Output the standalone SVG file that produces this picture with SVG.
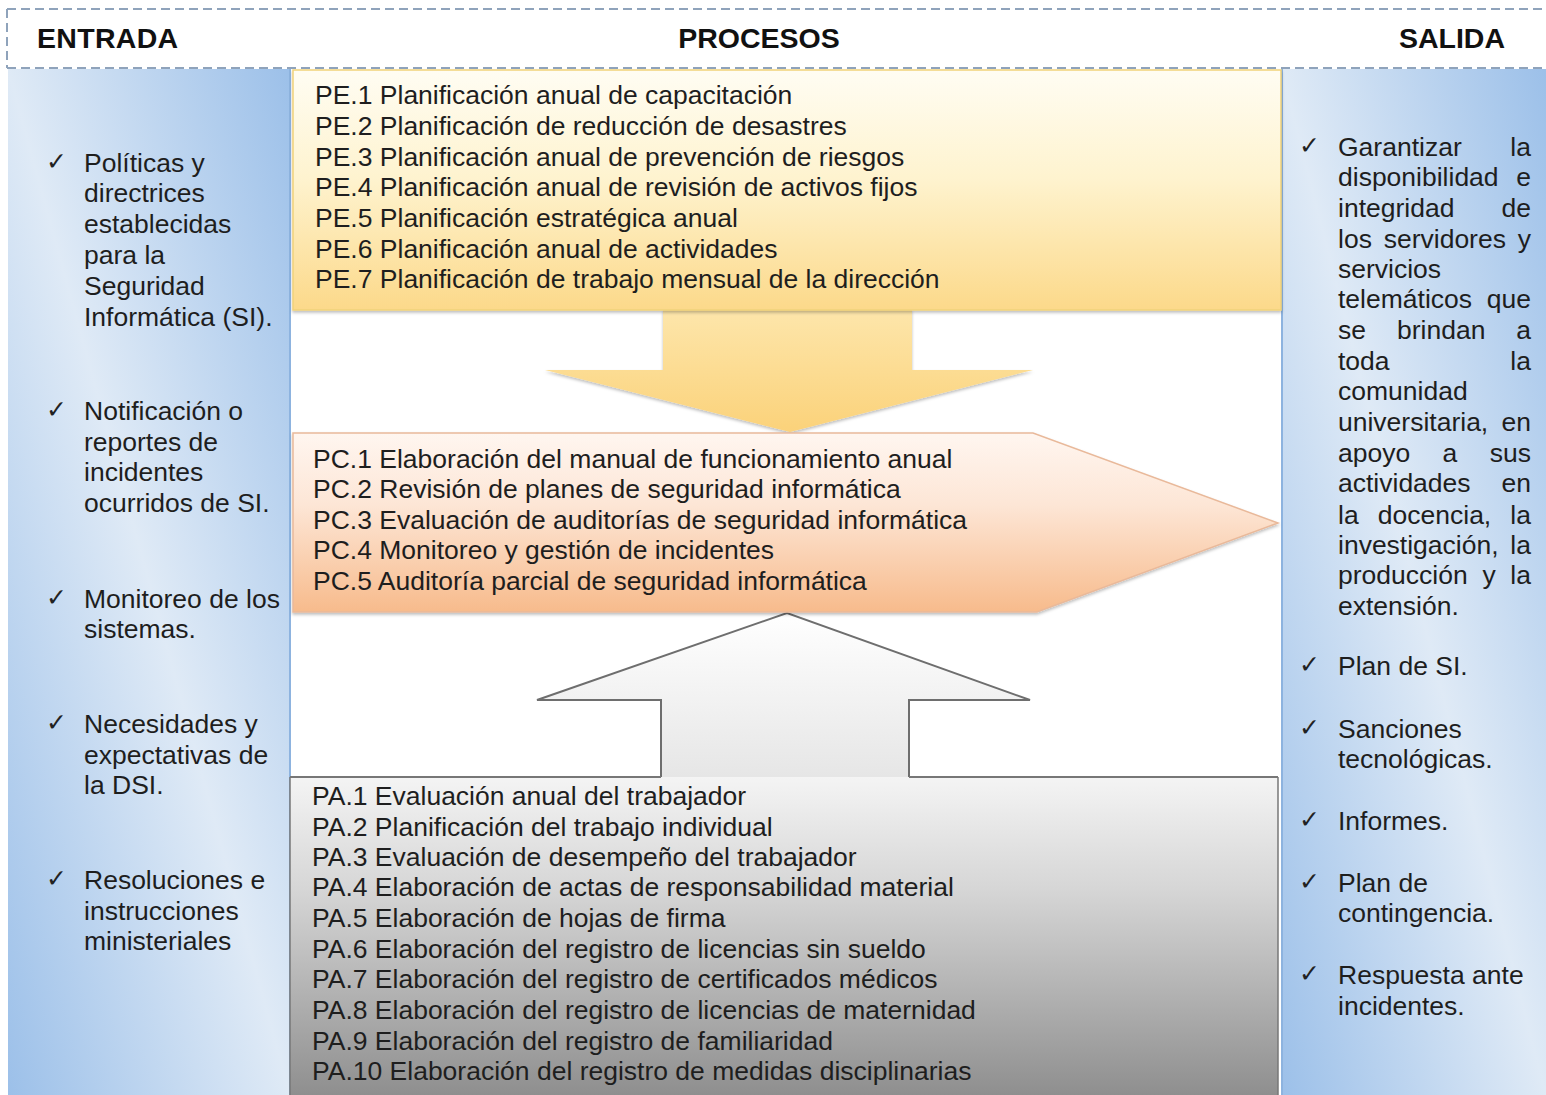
<svg xmlns="http://www.w3.org/2000/svg" width="1546" height="1095" viewBox="0 0 1546 1095">
<defs>
<style>
.t{font-family:"Liberation Sans",Arial,sans-serif;font-size:26.5px;fill:#1e1e1e}
.h{font-family:"Liberation Sans",Arial,sans-serif;font-size:28.5px;font-weight:bold;fill:#111}
.ck{font-family:"DejaVu Sans",sans-serif;font-size:25px;fill:#222}
.dash{stroke:#8fa3bb;stroke-width:2;stroke-dasharray:9 5;fill:none}
</style>
<linearGradient id="blue" x1="0" y1="1" x2="1" y2="0">
<stop offset="0" stop-color="#9cc0e9"/>
<stop offset="0.5" stop-color="#dfeaf6"/>
<stop offset="1" stop-color="#9cc0e9"/>
</linearGradient>
<linearGradient id="yel" x1="0" y1="0" x2="0" y2="1">
<stop offset="0" stop-color="#fffdf3"/>
<stop offset="0.45" stop-color="#fef3cf"/>
<stop offset="1" stop-color="#fcd98a"/>
</linearGradient>
<linearGradient id="yelA" x1="0" y1="0" x2="0" y2="1">
<stop offset="0" stop-color="#fde6ab"/>
<stop offset="1" stop-color="#fbd27a"/>
</linearGradient>
<linearGradient id="pch" x1="0" y1="0" x2="0" y2="1">
<stop offset="0" stop-color="#fff6f0"/>
<stop offset="0.4" stop-color="#fde6d6"/>
<stop offset="1" stop-color="#f7bb8c"/>
</linearGradient>
<linearGradient id="wht" x1="0" y1="0" x2="0" y2="1">
<stop offset="0" stop-color="#ffffff"/>
<stop offset="1" stop-color="#e6e6e6"/>
</linearGradient>
<linearGradient id="gry" x1="0" y1="0" x2="0" y2="1">
<stop offset="0" stop-color="#f4f4f4"/>
<stop offset="0.35" stop-color="#d6d6d6"/>
<stop offset="1" stop-color="#8e8e8e"/>
</linearGradient>
<filter id="sh" x="-5%" y="-5%" width="110%" height="115%">
<feDropShadow dx="0" dy="2" stdDeviation="1.5" flood-color="#000" flood-opacity="0.25"/>
</filter>
</defs>
<rect x="0" y="0" width="1546" height="1095" fill="#ffffff"/>

<g id="header">
<line class="dash" x1="7" y1="9" x2="1546" y2="9"/>
<line class="dash" x1="7" y1="9" x2="7" y2="68"/>
<line class="dash" x1="7" y1="68" x2="1546" y2="68"/>
<text class="h" x="37" y="48" letter-spacing="0.3">ENTRADA</text>
<text class="h" x="759" y="48" text-anchor="middle">PROCESOS</text>
<text class="h" x="1452" y="48" text-anchor="middle">SALIDA</text>
</g>

<g id="entrada">
<rect x="8" y="69" width="282" height="1026" fill="url(#blue)"/>
<line x1="290" y1="69" x2="290" y2="1095" stroke="#8db3df" stroke-width="2"/>
<g class="ck"><text x="46" y="170">✓</text><text x="46" y="418">✓</text><text x="46" y="606">✓</text><text x="46" y="731">✓</text><text x="46" y="887">✓</text></g>
<g class="t">
<text x="84" y="172">Políticas y</text>
<text x="84" y="202">directrices</text>
<text x="84" y="233">establecidas</text>
<text x="84" y="264">para la</text>
<text x="84" y="295">Seguridad</text>
<text x="84" y="326">Informática (SI).</text>
<text x="84" y="420">Notificación o</text>
<text x="84" y="451">reportes de</text>
<text x="84" y="481">incidentes</text>
<text x="84" y="512">ocurridos de SI.</text>
<text x="84" y="608">Monitoreo de los</text>
<text x="84" y="638">sistemas.</text>
<text x="84" y="733">Necesidades y</text>
<text x="84" y="764">expectativas de</text>
<text x="84" y="794">la DSI.</text>
<text x="84" y="889">Resoluciones e</text>
<text x="84" y="920">instrucciones</text>
<text x="84" y="950">ministeriales</text>
</g>
</g>

<g id="salida">
<rect x="1281" y="69" width="265" height="1026" fill="url(#blue)"/>
<line x1="1282" y1="69" x2="1282" y2="1095" stroke="#8db3df" stroke-width="2"/>
<g class="ck"><text x="1299" y="154">✓</text><text x="1299" y="673">✓</text><text x="1299" y="736">✓</text><text x="1299" y="828">✓</text><text x="1299" y="890">✓</text><text x="1299" y="982">✓</text></g>
<g class="t">
<text x="1338" y="156">Garantizar</text><text x="1531" y="156" text-anchor="end">la</text>
<text x="1338" y="186">disponibilidad</text><text x="1531" y="186" text-anchor="end">e</text>
<text x="1338" y="217">integridad</text><text x="1531" y="217" text-anchor="end">de</text>
<text x="1338" y="248">los</text><text x="1383.7" y="248">servidores</text><text x="1531" y="248" text-anchor="end">y</text>
<text x="1338" y="278">servicios</text>
<text x="1338" y="308">telemáticos</text><text x="1531" y="308" text-anchor="end">que</text>
<text x="1338" y="339">se</text><text x="1397" y="339">brindan</text><text x="1531" y="339" text-anchor="end">a</text>
<text x="1338" y="370">toda</text><text x="1531" y="370" text-anchor="end">la</text>
<text x="1338" y="400">comunidad</text>
<text x="1338" y="431">universitaria,</text><text x="1531" y="431" text-anchor="end">en</text>
<text x="1338" y="462">apoyo</text><text x="1442.6" y="462">a</text><text x="1531" y="462" text-anchor="end">sus</text>
<text x="1338" y="492">actividades</text><text x="1531" y="492" text-anchor="end">en</text>
<text x="1338" y="524">la</text><text x="1377.8" y="524">docencia,</text><text x="1531" y="524" text-anchor="end">la</text>
<text x="1338" y="554">investigación,</text><text x="1531" y="554" text-anchor="end">la</text>
<text x="1338" y="584">producción</text><text x="1482.4" y="584">y</text><text x="1531" y="584" text-anchor="end">la</text>
<text x="1338" y="615">extensión.</text>
<text x="1338" y="675">Plan de SI.</text>
<text x="1338" y="738">Sanciones</text>
<text x="1338" y="768">tecnológicas.</text>
<text x="1338" y="830">Informes.</text>
<text x="1338" y="892">Plan de</text>
<text x="1338" y="922">contingencia.</text>
<text x="1338" y="984">Respuesta ante</text>
<text x="1338" y="1015">incidentes.</text>
</g>
</g>

<g id="connectors">
<path d="M663,309 L912,309 L912,370 L1033,370 L790,432 L545,370 L663,370 Z" fill="url(#yelA)" filter="url(#sh)"/>
<path d="M661,777 L661,700 L537,700 L787,613 L1030,700 L909,700 L909,777" fill="url(#wht)" stroke="#6e6e6e" stroke-width="2" stroke-linejoin="miter"/>
</g>

<g id="pe">
<rect x="293" y="70" width="988" height="240" fill="url(#yel)" stroke="#f1d27a" stroke-width="1.5" filter="url(#sh)"/>
<g class="t">
<text x="315" y="104">PE.1 Planificación anual de capacitación</text>
<text x="315" y="135">PE.2 Planificación de reducción de desastres</text>
<text x="315" y="166">PE.3 Planificación anual de prevención de riesgos</text>
<text x="315" y="196">PE.4 Planificación anual de revisión de activos fijos</text>
<text x="315" y="227">PE.5 Planificación estratégica anual</text>
<text x="315" y="258">PE.6 Planificación anual de actividades</text>
<text x="315" y="288">PE.7 Planificación de trabajo mensual de la dirección</text>
</g>
</g>

<g id="pc">
<path d="M293,433 L1033,433 L1278,523 L1037,612 L293,612 Z" fill="url(#pch)" stroke="#e9b99a" stroke-width="1.5" filter="url(#sh)"/>
<g class="t">
<text x="313" y="468">PC.1 Elaboración del manual de funcionamiento anual</text>
<text x="313" y="498">PC.2 Revisión de planes de seguridad informática</text>
<text x="313" y="529">PC.3 Evaluación de auditorías de seguridad informática</text>
<text x="313" y="559">PC.4 Monitoreo y gestión de incidentes</text>
<text x="313" y="590">PC.5 Auditoría parcial de seguridad informática</text>
</g>
</g>

<g id="pa">
<rect x="290" y="777" width="988" height="320" fill="url(#gry)"/>
<line x1="290" y1="777" x2="661" y2="777" stroke="#777" stroke-width="2"/>
<line x1="909" y1="777" x2="1278" y2="777" stroke="#777" stroke-width="2"/>
<line x1="290" y1="777" x2="290" y2="1095" stroke="#777" stroke-width="1.5"/>
<line x1="1278" y1="777" x2="1278" y2="1095" stroke="#777" stroke-width="1.5"/>
<g class="t">
<text x="312" y="805">PA.1 Evaluación anual del trabajador</text>
<text x="312" y="836">PA.2 Planificación del trabajo individual</text>
<text x="312" y="866">PA.3 Evaluación de desempeño del trabajador</text>
<text x="312" y="896">PA.4 Elaboración de actas de responsabilidad material</text>
<text x="312" y="927">PA.5 Elaboración de hojas de firma</text>
<text x="312" y="958">PA.6 Elaboración del registro de licencias sin sueldo</text>
<text x="312" y="988">PA.7 Elaboración del registro de certificados médicos</text>
<text x="312" y="1019">PA.8 Elaboración del registro de licencias de maternidad</text>
<text x="312" y="1050">PA.9 Elaboración del registro de familiaridad</text>
<text x="312" y="1080">PA.10 Elaboración del registro de medidas disciplinarias</text>
</g>
</g>
</svg>
